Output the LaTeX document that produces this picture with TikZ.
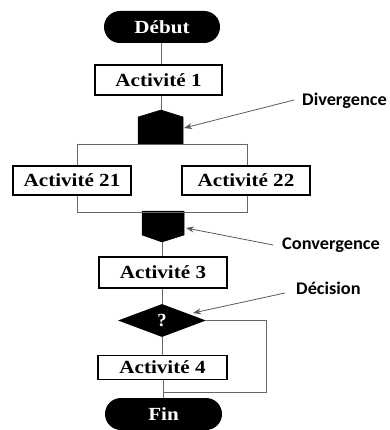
\documentclass[tikz,border=0pt]{standalone}
\usepackage{fontspec}
\setmainfont{Liberation Serif}
\newfontfamily\boxfont{Liberation Serif}
\newfontfamily\annfont{Carlito}
\usetikzlibrary{shapes.geometric,arrows.meta}
\newcommand\wide[1]{\scalebox{1.14}[1]{#1}}
\newcommand\annw[1]{\scalebox{1.03}[1]{#1}}
\begin{document}
\begin{tikzpicture}[x=1pt,y=-1pt,
  act/.style={draw=black,line width=1.2pt,fill=white,inner sep=0pt,
    font=\boxfont\fontsize{18.5}{20}\selectfont\bfseries},
  term/.style={fill=black,rounded corners=16pt,minimum height=32pt,text=white,inner sep=0pt,
    font=\boxfont\fontsize{18.5}{20}\selectfont\bfseries},
  gate/.style={fill=black,draw=black,line width=0.5pt},
  link/.style={draw=black!60,line width=0.8pt},
  ann/.style={font=\annfont\fontsize{17.8}{20}\selectfont\bfseries,inner sep=0pt,anchor=west},
  pointer/.style={draw=black!65,line width=0.8pt,-{Stealth[length=8pt,width=6pt]}}]
\useasboundingbox (0,0) rectangle (389,430);

% terminals and activities
\node[term,minimum width=116pt] (debut) at (162,27) {\wide{Début}};
\node[act,minimum width=127pt,minimum height=30pt] (a1) at (158.5,80) {\wide{Activité 1}};
\node[act,minimum width=118pt,minimum height=29pt] (a21) at (72,180.5) {\wide{Activité 21}};
\node[act,minimum width=128pt,minimum height=29pt] (a22) at (246,180.5) {\wide{Activité 22}};
\node[act,minimum width=128pt,minimum height=31pt] (a3) at (163,272.5) {\wide{Activité 3}};
\node[diamond,fill=black,minimum width=88pt,minimum height=33pt,inner sep=0pt,text=white,
  font=\boxfont\fontsize{18.5}{20}\selectfont\bfseries] (dec) at (162,320.5) {?};
\node[act,minimum width=129pt,minimum height=24pt] (a4) at (162.5,367.5) {\wide{Activité 4}};
\node[term,minimum width=117pt] (fin) at (163.5,414) {\wide{Fin}};

% divergence gate
\coordinate (dv) at (161,110);
\coordinate (dvb) at (161,144);
\coordinate (dvtip) at (184,128);
\fill[gate] (138,117) -- (dv) -- (183,117) -- (183,144) -- (138,144) -- cycle;

% convergence gate
\coordinate (cvt) at (163,211);
\coordinate (cv) at (162,242);
\coordinate (cvtip) at (186,228);
\fill[gate] (142,211) -- (184,211) -- (184,235) -- (cv) -- (142,235) -- cycle;

% branch coordinates
\coordinate (sl) at (77,144);
\coordinate (sr) at (247,144);
\coordinate (jl) at (77,212.5);
\coordinate (jr) at (247,212.5);
\coordinate (lp1) at (266,320.5);
\coordinate (lp2) at (266,392);
\coordinate (lp3) at (163,392);

% connectors
\draw[link] (debut.south -| dv) -- (a1.north -| dv);
\draw[link] (a1.south -| dv) -- (dv);
\draw[link] (sl) -- (sr);
\draw[link] (sl) -- (a21.north -| sl);
\draw[link] (sr) -- (a22.north -| sr);
\draw[link] (a21.south -| jl) -- (jl) -- (jr) -- (a22.south -| jr);
\draw[link] (cv) -- (a3.north -| cv);
\draw[link] (a3.south -| dec) -- (dec.north);
\draw[link] (dec.south) -- (a4.north -| dec);
\draw[link] (a4.south -| lp3) -- (fin.north -| lp3);
\draw[link] (dec.east) -- (lp1) -- (lp2) -- (lp3);

% annotations
\node[ann] (ldiv) at (302,101) {\annw{Divergence}};
\node[ann] (lconv) at (282,245) {\annw{Convergence}};
\node[ann] (ldec) at (296,288.5) {\annw{Décision}};
\coordinate (dvs) at (294,100);
\coordinate (cvs) at (273,245);
\coordinate (dcs) at (285,293);
\coordinate (dctip) at (193,313);
\draw[pointer] (dvs) -- (dvtip);
\draw[pointer] (cvs) -- (cvtip);
\draw[pointer] (dcs) -- (dctip);
\end{tikzpicture}
\end{document}
